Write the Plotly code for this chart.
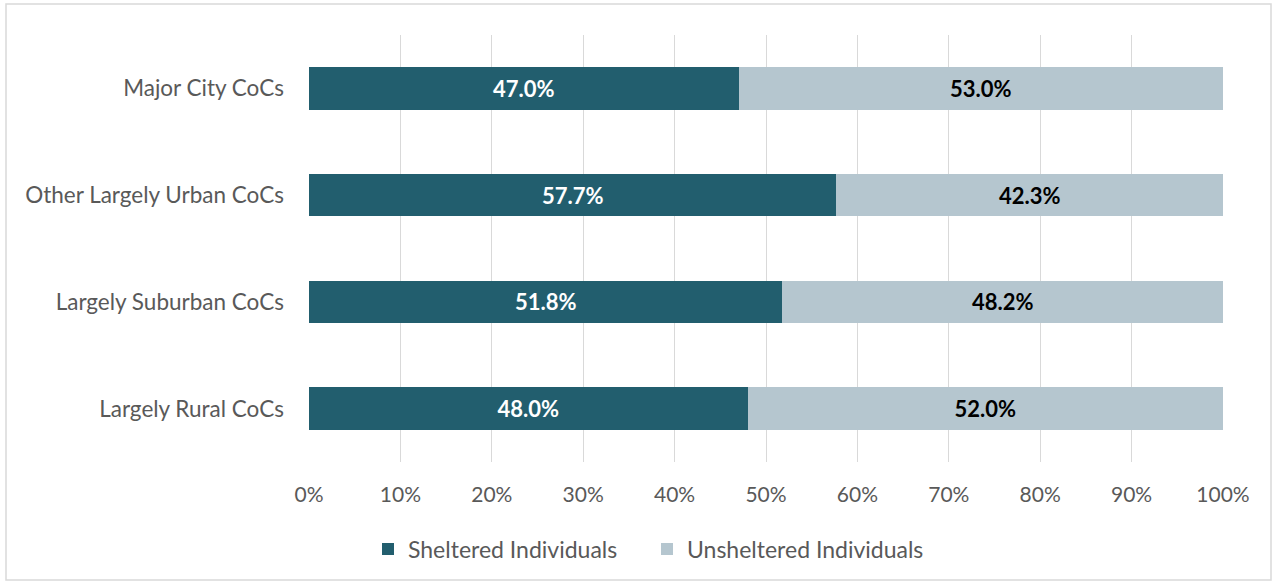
import plotly.graph_objects as go

categories = ["Major City CoCs", "Other Largely Urban CoCs", "Largely Suburban CoCs", "Largely Rural CoCs"]
sheltered = [47.0, 57.7, 51.8, 48.0]
unsheltered = [53.0, 42.3, 48.2, 52.0]
tick_vals = [0, 10, 20, 30, 40, 50, 60, 70, 80, 90, 100]
tick_text = [f"{v}%" for v in tick_vals]

FONT = "Lato, 'Open Sans', sans-serif"
W, H = 1275, 583
ML, MR, MT, MB = 309, 52, 35, 121

fig = go.Figure()
fig.add_trace(go.Bar(
    y=categories, x=sheltered, orientation="h", name="Sheltered Individuals",
    marker=dict(color="#225E6E", line=dict(width=0)),
    text=[f"{v:.1f}%" for v in sheltered], textposition="inside", insidetextanchor="middle",
    textfont=dict(color="white", size=22, family=FONT, weight="bold"),
))
fig.add_trace(go.Bar(
    y=categories, x=unsheltered, orientation="h", name="Unsheltered Individuals",
    marker=dict(color="#B5C6CF", line=dict(width=0)),
    text=[f"{v:.1f}%" for v in unsheltered], textposition="inside", insidetextanchor="middle",
    textfont=dict(color="black", size=22, family=FONT, weight="bold"),
))

pw = W - ML - MR
ph = H - MT - MB
fig.add_shape(type="rect", xref="paper", yref="paper",
              x0=(6 - ML) / pw, x1=(1271 - ML) / pw,
              y0=(H - MB - 580) / ph, y1=(H - MB - 4) / ph,
              line=dict(color="#D9D9D9", width=1.5), fillcolor="rgba(0,0,0,0)", layer="below")

fig.update_layout(
    width=W, height=H,
    barmode="stack", bargap=0.6,
    margin=dict(l=ML, r=MR, t=MT, b=MB),
    paper_bgcolor="white", plot_bgcolor="white",
    font=dict(family=FONT, size=22, color="#595959"),
    uniformtext=dict(mode="show", minsize=10),
    xaxis=dict(range=[0, 100], tickvals=tick_vals, ticktext=tick_text,
               showgrid=True, gridcolor="#D9D9D9", gridwidth=1.3, zeroline=False,
               showline=False, ticks="", ticklabelstandoff=18,
               tickfont=dict(size=21, color="#595959", family=FONT)),
    yaxis=dict(autorange="reversed", showgrid=False, ticks="", showline=False,
               ticklabelstandoff=24, tickfont=dict(size=22.5, color="#595959", family=FONT)),
    legend=dict(orientation="h", xref="container", yref="container", x=(383 - 15) / W, y=1 - 549 / H,
                xanchor="left", yanchor="middle", font=dict(size=23, color="#595959", family=FONT),
                traceorder="normal", itemwidth=30, tracegroupgap=0,
                entrywidth=234, entrywidthmode="pixels"),
    showlegend=True,
)

fig.write_html("out.html", config={"displayModeBar": False},
               post_script="document.body.style.margin='0';document.body.style.padding='0';")
